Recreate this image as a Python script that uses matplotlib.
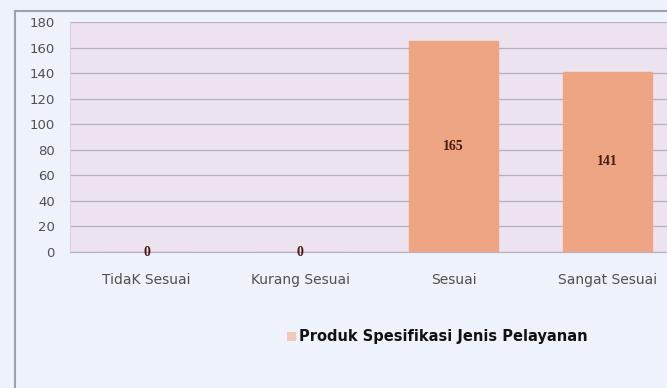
import matplotlib
matplotlib.use("Agg")
import matplotlib.pyplot as plt
from matplotlib.lines import Line2D
from matplotlib.patches import Patch

categories = ["TidaK Sesuai", "Kurang Sesuai", "Sesuai", "Sangat Sesuai"]
values = [0, 0, 165, 141]
series_name = "Produk Spesifikasi Jenis Pelayanan"
y_ticks = [0, 20, 40, 60, 80, 100, 120, 140, 160, 180]

W, H = 667, 388
fig = plt.figure(figsize=(W / 100, H / 100), dpi=100)
fig.patch.set_facecolor("#eef3fb")

# plot area (runs slightly past the right edge of the canvas)
ax = fig.add_axes([70 / W, 136 / H, 614 / W, 230 / H])
ax.set_facecolor("#ece3ef")

x = range(len(categories))
bars = ax.bar(x, values, width=0.58, color="#eea584", edgecolor="#eea584", zorder=3)
ax.bar_label(bars, labels=[str(v) for v in values], label_type="center",
             fontsize=10, fontweight="bold", color="#4a1a12",
             family="Liberation Serif", zorder=4)

ax.set_xlim(-0.5, len(categories) - 0.5)
ax.set_ylim(0, 180)
ax.set_yticks(y_ticks)
ax.set_yticklabels([str(t) for t in y_ticks], fontsize=9.5, color="#505050",
                   family="DejaVu Sans")
ax.set_xticks(list(x))
ax.set_xticklabels(categories, fontsize=10, color="#505050",
                   family="DejaVu Sans")
ax.tick_params(axis="both", length=0)
ax.tick_params(axis="x", pad=15)
ax.tick_params(axis="y", pad=11)

ax.yaxis.grid(True, color="#b6b0c0", linewidth=0.9, zorder=1)
ax.set_axisbelow(True)
for side in ["top", "right"]:
    ax.spines[side].set_visible(False)
ax.spines["bottom"].set_color("#b6b0c0")
ax.spines["left"].set_color("#d8d2dc")

# outer chart border
fig.add_artist(Line2D([15 / W, 15 / W], [0, 1 - 11 / H], transform=fig.transFigure,
                      color="#9aa2ac", linewidth=1.5))
fig.add_artist(Line2D([15 / W, 1.0], [1 - 11 / H, 1 - 11 / H], transform=fig.transFigure,
                      color="#9aa2ac", linewidth=1.5))

handle = Patch(facecolor="#f2c8b8", edgecolor="none")
leg = fig.legend([handle], [series_name], loc="center left",
                 bbox_to_anchor=(274 / W, 1 - 337 / H), frameon=False,
                 handlelength=0.6, handleheight=0.6, handletextpad=0.2,
                 prop={"family": "DejaVu Sans", "weight": "bold", "size": 10.5})
for t in leg.get_texts():
    t.set_color("#111111")

fig.savefig("out.png", dpi=100, facecolor=fig.get_facecolor())
